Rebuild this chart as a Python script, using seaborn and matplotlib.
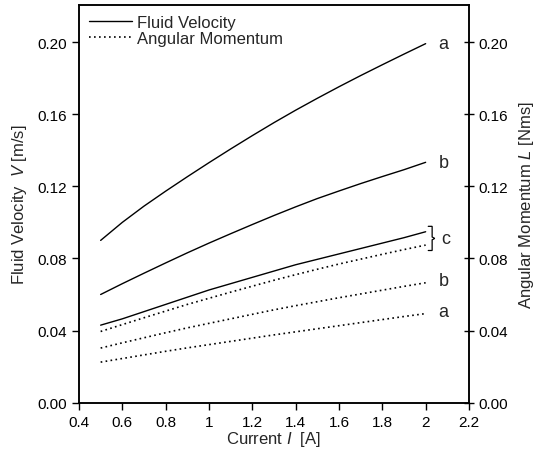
import numpy as np
import pandas as pd
import matplotlib
matplotlib.use("Agg")
import matplotlib.pyplot as plt
import seaborn as sns
from matplotlib.ticker import FuncFormatter

current = [0.5, 0.6, 0.7, 0.8, 0.9, 1.0, 1.1, 1.2, 1.3, 1.4, 1.5, 1.6, 1.7, 1.8, 1.9, 2.0]

vel_a = [0.0900, 0.1000, 0.1090, 0.1173, 0.1253, 0.1331, 0.1407, 0.1481, 0.1553, 0.1622,
         0.1688, 0.1752, 0.1814, 0.1874, 0.1933, 0.1991]
vel_b = [0.0600, 0.0660, 0.0718, 0.0775, 0.0831, 0.0885, 0.0937, 0.0988, 0.1038, 0.1086,
         0.1132, 0.1174, 0.1215, 0.1254, 0.1292, 0.1333]
vel_c = [0.0430, 0.0465, 0.0505, 0.0545, 0.0585, 0.0625, 0.0660, 0.0695, 0.0730, 0.0765,
         0.0795, 0.0825, 0.0855, 0.0885, 0.0915, 0.0948]

mom_c = [0.0395, 0.0433, 0.0471, 0.0508, 0.0545, 0.0579, 0.0613, 0.0646, 0.0679, 0.0710,
         0.0740, 0.0769, 0.0796, 0.0823, 0.0849, 0.0874]
mom_b = [0.0303, 0.0332, 0.0360, 0.0388, 0.0415, 0.0440, 0.0465, 0.0490, 0.0515, 0.0538,
         0.0560, 0.0582, 0.0603, 0.0624, 0.0645, 0.0665]
mom_a = [0.0225, 0.0245, 0.0265, 0.0285, 0.0304, 0.0322, 0.0340, 0.0358, 0.0376, 0.0393,
         0.0410, 0.0427, 0.0444, 0.0461, 0.0478, 0.0494]

x_ticks = [0.4, 0.6, 0.8, 1.0, 1.2, 1.4, 1.6, 1.8, 2.0, 2.2]
y_ticks = [0.00, 0.04, 0.08, 0.12, 0.16, 0.20]

sns.set_style("ticks")
plt.rcParams['font.family'] = ['Liberation Sans', 'DejaVu Sans']
plt.rcParams['mathtext.fontset'] = 'custom'
plt.rcParams['mathtext.it'] = 'Liberation Sans:italic'
plt.rcParams['mathtext.rm'] = 'Liberation Sans'

fig = plt.figure(figsize=(5.38, 4.56), dpi=100)
ax = fig.add_axes([0.1468, 0.1147, 0.7249, 0.872])

solid_kw = dict(color='black', linewidth=1.0)
dot_kw = dict(color='black', linewidth=1.2, linestyle=(0, (1, 2.0)))

sns.lineplot(x=current, y=vel_a, ax=ax, label='Fluid Velocity', **solid_kw)
sns.lineplot(x=current, y=vel_b, ax=ax, **solid_kw)
sns.lineplot(x=current, y=vel_c, ax=ax, **solid_kw)
sns.lineplot(x=current, y=mom_c, ax=ax, label='Angular Momentum', **dot_kw)
sns.lineplot(x=current, y=mom_b, ax=ax, **dot_kw)
sns.lineplot(x=current, y=mom_a, ax=ax, **dot_kw)

ax.set_xlim(0.4, 2.2)
ax.set_ylim(0.0, 0.2205)
ax.set_xticks(x_ticks)
ax.set_yticks(y_ticks)
ax.xaxis.set_major_formatter(FuncFormatter(lambda v, p: f"{v:g}"))
ax.yaxis.set_major_formatter(FuncFormatter(lambda v, p: f"{v:.2f}"))
ax.tick_params(axis='both', direction='out', length=5, width=1, labelsize=11, colors='black')
for s in ax.spines.values():
    s.set_linewidth(1.1)
    s.set_color('black')

ax.set_xlabel(r'Current $\mathit{I}$  [A]', fontsize=12, labelpad=0)
ax.set_ylabel(r'Fluid Velocity  $\mathit{V}$ [m/s]', fontsize=12, labelpad=6)

ax2 = ax.twinx()
ax2.set_ylim(ax.get_ylim())
ax2.set_yticks(y_ticks)
ax2.yaxis.set_major_formatter(FuncFormatter(lambda v, p: f"{v:.2f}"))
ax2.tick_params(axis='y', direction='inout', length=7, width=1, labelsize=11, colors='black')
ax2.set_ylabel(r'Angular Momentum $\mathit{L}$ [Nms]', fontsize=12, labelpad=6)
for s in ax2.spines.values():
    s.set_linewidth(1.1)
    s.set_color('black')

leg = ax.legend(loc='upper left', frameon=False, fontsize=12, handlelength=2.6,
                handletextpad=0.3, borderaxespad=0.2, labelspacing=0.05,
                bbox_to_anchor=(0.0, 1.0))

# end labels
xe = current[-1]
lx = xe + 0.06
fs = 13
ax.text(lx, vel_a[-1], 'a', fontsize=fs, va='center', ha='left')
ax.text(lx, vel_b[-1], 'b', fontsize=fs, va='center', ha='left')
ax.text(lx + 0.012, (vel_c[-1] + mom_c[-1]) / 2, 'c', fontsize=fs, va='center', ha='left')
ax.text(lx, mom_b[-1] + 0.001, 'b', fontsize=fs, va='center', ha='left')
ax.text(lx, mom_a[-1] + 0.001, 'a', fontsize=fs, va='center', ha='left')

# bracket for c
top = vel_c[-1] + 0.003
bot = mom_c[-1] - 0.003
mid = (top + bot) / 2
bx = xe + 0.03
ax.plot([xe + 0.012, bx, bx, bx + 0.012, bx, bx, xe + 0.012],
        [top, top, mid + 0.0008, mid, mid - 0.0008, bot, bot],
        color='black', linewidth=0.9, solid_joinstyle='miter')

fig.savefig('out.png', dpi=100)
